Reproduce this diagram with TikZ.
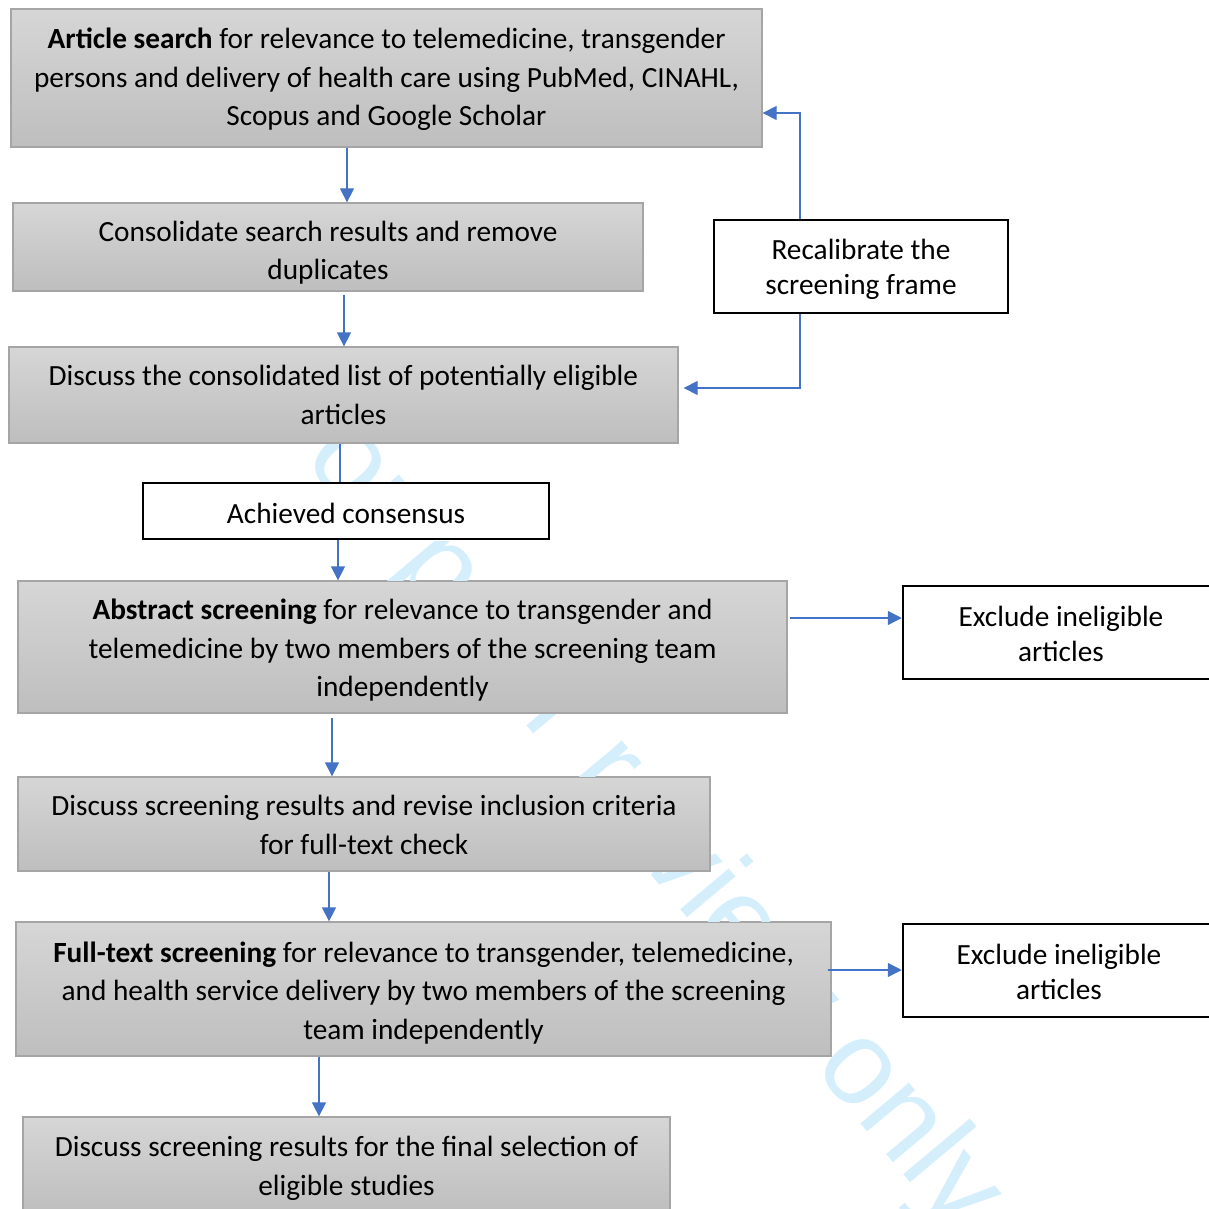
\documentclass[tikz,border=0pt]{standalone}
\usepackage{fontspec}
\setmainfont{Carlito}
\newfontfamily\wmfont{Liberation Sans}
\usetikzlibrary{arrows.meta}
\definecolor{arrowblue}{HTML}{4472C4}
\definecolor{boxedge}{HTML}{A5A5A5}
\definecolor{gtop}{HTML}{D6D6D6}
\definecolor{gbot}{HTML}{BEBEBE}
\definecolor{wmcyan}{HTML}{D4EFFB}
\begin{document}
\begin{tikzpicture}[x=1pt,y=-1pt,
  graybox/.style={draw=boxedge, line width=1.3pt, fill=gbot, top color=gtop, bottom color=gbot,
    inner sep=0pt},
  whitebox/.style={draw=black, line width=2.5pt, fill=white, inner sep=0pt},
  graytext/.style={align=center, inner sep=0pt, font=\fontsize{29.3}{38.6}\selectfont},
  whitetext/.style={align=center, inner sep=0pt, font=\fontsize{29.3}{35.5}\selectfont},
  arr/.style={draw=arrowblue, line width=1.3pt, -{Triangle[length=14pt,width=14pt]}},
  plainline/.style={draw=arrowblue, line width=1.3pt},
  watermark/.style={text=wmcyan, inner sep=0pt, rotate=-50, anchor=base west,
    font=\wmfont\fontsize{120}{120}\selectfont}]
\useasboundingbox (0,0) rectangle (1209,1209);
\clip (0,0) rectangle (1209,1209);

% boxes
\node[graybox, minimum width=751pt, minimum height=138pt] (b1) at (386.5,78) {};
\node[graybox, minimum width=630pt, minimum height=88pt] (b2) at (328,247) {};
\node[graybox, minimum width=669pt, minimum height=96pt] (b3) at (343.5,395) {};
\node[whitebox, minimum width=406pt, minimum height=56pt] (b4) at (346,511) {};
\node[graybox, minimum width=769pt, minimum height=132pt] (b5) at (402.5,647) {};
\node[graybox, minimum width=692pt, minimum height=94pt] (b6) at (364,824) {};
\node[graybox, minimum width=815pt, minimum height=134pt] (b7) at (423.5,989) {};
\node[graybox, minimum width=647pt, minimum height=97pt] (b8) at (346.5,1165.5) {};
\node[whitebox, minimum width=294pt, minimum height=93pt] (rc) at (861,266.5) {};
\node[whitebox, minimum width=316pt, minimum height=93pt] (ex1) at (1061,632.5) {};
\node[whitebox, minimum width=316pt, minimum height=93pt] (ex2) at (1061,970.5) {};

% watermark, kept out of the boxes
\begin{scope}[even odd rule]
  \clip (-10,-10) rectangle (1220,1220)
    (b1.north west) rectangle (b1.south east)
    (b2.north west) rectangle (b2.south east)
    (b3.north west) rectangle (b3.south east)
    (b4.north west) rectangle (b4.south east)
    (b5.north west) rectangle (b5.south east)
    (b6.north west) rectangle (b6.south east)
    (b7.north west) rectangle (b7.south east)
    (b8.north west) rectangle (b8.south east)
    (rc.north west) rectangle (rc.south east)
    (ex1.north west) rectangle (ex1.south east)
    (ex2.north west) rectangle (ex2.south east);
  \node[watermark] (wm) at (255.3,402.5) {For peer review only};
\end{scope}

% texts
\node[graytext] (t1) at ([yshift=-1.5pt]b1.center)
  {\textbf{Article search} for relevance to telemedicine, transgender\\persons and delivery of health care using PubMed, CINAHL,\\Scopus and Google Scholar};
\node[graytext] (t2) at ([yshift=-5.5pt]b2.center)
  {Consolidate search results and remove\\duplicates};
\node[graytext] (t3) at (b3.center)
  {Discuss the consolidated list of potentially eligible\\articles};
\node[whitetext] (t4) at ([yshift=-2pt]b4.center) {Achieved consensus};
\node[graytext] (t5) at ([yshift=-3.3pt]b5.center)
  {\textbf{Abstract screening} for relevance to transgender and\\telemedicine by two members of the screening team\\independently};
\node[graytext] (t6) at ([yshift=-1pt]b6.center)
  {Discuss screening results and revise inclusion criteria\\for full-text check};
\node[graytext] (t7) at ([yshift=-3.7pt]b7.center)
  {\textbf{Full-text screening} for relevance to transgender, telemedicine,\\and health service delivery by two members of the screening\\team independently};
\node[graytext] (t8) at ([yshift=-3pt]b8.center)
  {Discuss screening results for the final selection of\\eligible studies};
\node[whitetext] (trc) at ([yshift=-3pt]rc.center) {Recalibrate the\\screening frame};
\node[whitetext] (tex1) at ([yshift=-1.5pt]ex1.center) {Exclude ineligible\\articles};
\node[whitetext] (tex2) at ([xshift=-2pt,yshift=-1.5pt]ex2.center) {Exclude ineligible\\articles};

% connectors
\draw[arr] ([xshift=-39.5pt]b1.south) -- ([xshift=19pt]b2.north);
\draw[arr] ([xshift=16pt,yshift=-3pt]b2.south) -- ([xshift=0.5pt]b3.north);
\draw[plainline] ([xshift=-3.5pt]b3.south) -- ([xshift=-6pt]b4.north);
\draw[arr] ([xshift=-8pt]b4.south) -- ([xshift=-64.5pt]b5.north);
\draw[arr] ([xshift=-70.5pt,yshift=-4pt]b5.south) -- ([xshift=-32pt]b6.north);
\draw[arr] ([xshift=-35pt]b6.south) -- ([xshift=-94.5pt]b7.north);
\draw[arr] ([xshift=-104.5pt]b7.south) -- ([xshift=-27.5pt]b8.north);
\draw[arr] ([xshift=2pt,yshift=29pt]b5.east) -- ([yshift=14.5pt]ex1.west);
\draw[arr] ([xshift=-4pt,yshift=19pt]b7.east) -- ([yshift=0.5pt]ex2.west);
\draw[arr] ([xshift=-61pt]rc.north) |- ([yshift=-35pt]b1.east);
\draw[arr] ([xshift=-61pt]rc.south) |- ([xshift=5pt,yshift=7pt]b3.east);
\end{tikzpicture}
\end{document}
